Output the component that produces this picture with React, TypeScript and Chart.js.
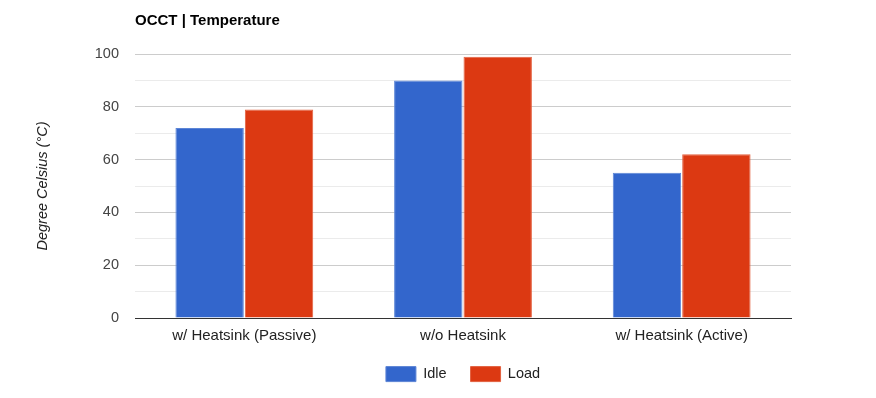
import React, { useEffect, useRef } from "react";
import { Chart, registerables } from "chart.js";

Chart.register(...registerables);

const categories = ["w/ Heatsink (Passive)", "w/o Heatsink", "w/ Heatsink (Active)"];
const idleValues = [72, 90, 55];
const loadValues = [79, 99, 62];
const seriesNames = ["Idle", "Load"];
const chartTitle = "OCCT | Temperature";
const yAxisTitle = "Degree Celsius (°C)";

const FONT = "Arial, 'Liberation Sans', sans-serif";

const titlePlugin = {
  id: "leftTitle",
  afterLayout(chart: any) {
    const lg = chart.legend;
    if (lg) {
      const ca = chart.chartArea;
      const dx = (ca.left + ca.right) / 2 - (lg.left + lg.right) / 2;
      lg.left += dx;
      lg.right += dx;
      const dy = 342.6 - lg.top;
      lg.top += dy;
      lg.bottom += dy;
    }
  },
  afterDraw(chart: any) {
    const ctx = chart.ctx;
    ctx.save();
    ctx.font = `bold 15px ${FONT}`;
    ctx.fillStyle = "#000";
    ctx.textBaseline = "middle";
    ctx.textAlign = "left";
    ctx.fillText(chartTitle, chart.chartArea.left, 21);
    ctx.restore();
  },
};

export default function App() {
  const ref = useRef<HTMLCanvasElement>(null);
  useEffect(() => {
    if (!ref.current) return;
    const chart = new Chart(ref.current, {
      type: "bar",
      data: {
        labels: categories,
        datasets: [
          {
            label: seriesNames[0],
            data: idleValues,
            backgroundColor: "#3366cc",
            borderColor: "#5c85d6",
            borderWidth: 1,
            categoryPercentage: 0.635,
            barPercentage: 0.985,
          },
          {
            label: seriesNames[1],
            data: loadValues,
            backgroundColor: "#dc3912",
            borderColor: "#e3613f",
            borderWidth: 1,
            categoryPercentage: 0.635,
            barPercentage: 0.985,
          },
        ],
      },
      options: {
        animation: false,
        responsive: false,
        maintainAspectRatio: false,
        layout: { padding: { top: 54, right: 85, left: 0, bottom: 0 } },
        plugins: {
          title: { display: false },
          tooltip: { enabled: false },
          legend: {
            position: "bottom",
            labels: {
              boxWidth: 30,
              boxHeight: 15,
              color: "#222",
              font: { family: FONT, size: 14.5 },
              padding: 24,
            },
          },
        },
        scales: {
          x: {
            grid: { display: false, drawTicks: false },
            border: { display: true, color: "#333", width: 1 },
            ticks: { color: "#222", font: { family: FONT, size: 15 }, padding: 9 },
            afterFit: (scale: any) => {
              scale.height = 31;
            },
          },
          y: {
            min: 0,
            max: 100,
            ticks: {
              stepSize: 10,
              color: "#444",
              font: { family: FONT, size: 14.5 },
              padding: 16,
              callback: (v: any) => (Number(v) % 20 === 0 ? String(v) : ""),
            },
            grid: {
              drawTicks: false,
              color: (c: any) =>
                c.tick && c.tick.value === 0
                  ? "#333"
                  : c.tick && c.tick.value % 20 === 0
                  ? "#cccccc"
                  : "#ebebeb",
            },
            border: { display: false },
            title: {
              display: true,
              text: yAxisTitle,
              color: "#222",
              font: { family: FONT, size: 14.5, style: "italic" },
              padding: { top: 34, bottom: 0 },
            },
            afterFit: (scale: any) => {
              scale.width = 135;
            },
          },
        },
      },
      plugins: [titlePlugin],
    });
    return () => chart.destroy();
  }, []);
  return (
    <div style={{ position: "absolute", left: 0, top: 0, width: 876, height: 398, background: "#fff" }}>
      <canvas ref={ref} width={876} height={398} style={{ width: 876, height: 398 }} />
    </div>
  );
}
